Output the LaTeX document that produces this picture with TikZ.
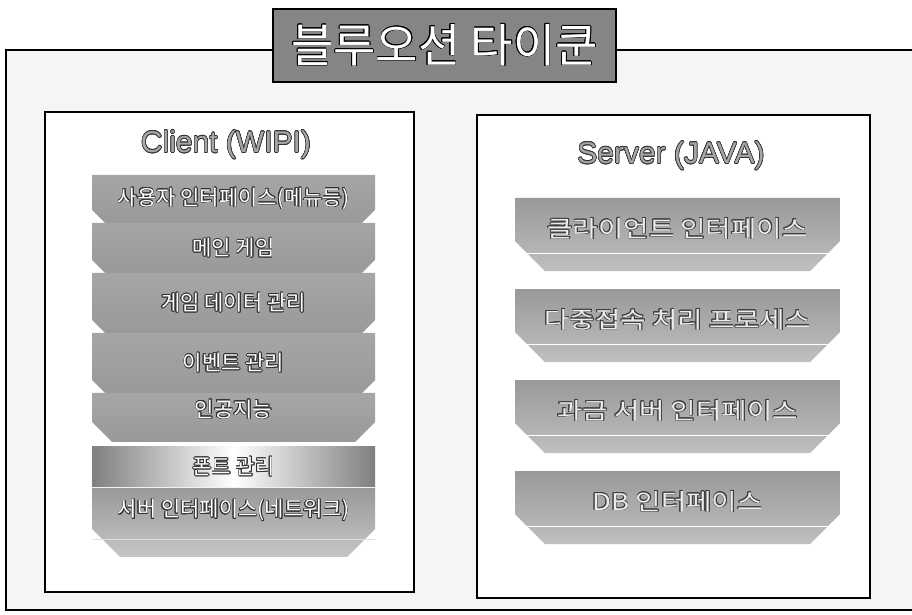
\documentclass[tikz,border=0pt]{standalone}
\usepackage{fontspec}
\usepackage{tikz}
\usepackage{contour}
\usetikzlibrary{positioning,shapes.misc}
\setmainfont{Noto Sans CJK KR}
\newfontfamily\hanwide[FakeStretch=1.2]{Noto Sans CJK KR}
\newfontfamily\latsans{Liberation Sans}
\contourlength{0.6pt}
\definecolor{titlegray}{gray}{0.52}
\definecolor{backgray}{gray}{0.96}

\begin{document}
\begin{tikzpicture}[x=1pt,y=1pt,
	clband/.style={chamfered rectangle, chamfered rectangle corners={south west,south east}, chamfered rectangle xsep=6pt, chamfered rectangle ysep=7pt, minimum width=283pt, inner sep=2pt, outer sep=0pt, top color=gray!70, middle color=gray!30, bottom color=gray!80, font=\fontsize{21}{24}\selectfont, text=white},
	svband/.style={chamfered rectangle, chamfered rectangle corners={south west,south east}, chamfered rectangle xsep=12pt, chamfered rectangle ysep=18pt, minimum width=325pt, minimum height=69pt, inner sep=2pt, outer sep=0pt, top color=gray!80, bottom color=gray!50, text depth=14pt, font=\hanwide\fontsize{23}{26}\selectfont, text=gray!15}]
		\useasboundingbox (0,0) rectangle (912,615);
		\path [draw, fill=backgray, line width=1.2pt] (6,5) rectangle (930,565);
		\node (title) at (444.5,569.5) [rectangle, draw, line width=1.2pt, fill=titlegray, minimum width=343pt, minimum height=73pt, font=\fontsize{46}{50}\selectfont, text=white] {\contour{black}{블루오션 타이쿤}};
		\node (client) at (229.5,263) [rectangle, draw, line width=1.5pt, fill=white, minimum width=369pt, minimum height=480pt] {};
		\node (server) at (673.5,258.5) [rectangle, draw, line width=1.5pt, fill=white, minimum width=393pt, minimum height=483pt] {};
		\node (ctitle) at (226,470) [font=\latsans\fontsize{30}{34}\selectfont, text=gray!70] {\contour{black!80}{Client (WIPI)}};
		\node (stitle) at (671,459) [font=\latsans\fontsize{30}{34}\selectfont, text=gray!70] {\contour{black!80}{Server (JAVA)}};
		% client layers
		\node (cl1) at (233.5,440) [clband, anchor=north, minimum height=48pt] {\contour{black!80}{사용자 인터페이스(메뉴등)}};
		\node (cl2) [clband, below=0pt of cl1, minimum height=50pt] {\contour{black!80}{메인 게임}};
		\node (cl3) [clband, below=0pt of cl2, minimum height=60pt] {\contour{black!80}{게임 데이터 관리}};
		\node (cl4) [clband, below=0pt of cl3, minimum height=60pt] {\contour{black!80}{이벤트 관리}};
		\node (cl5) [clband, below=0pt of cl4, minimum height=49pt, chamfered rectangle xsep=10pt, chamfered rectangle ysep=10pt] {\raisebox{8pt}[\height][\depth]{\contour{black!80}{인공지능}}};
		\node (cl6) [rectangle, below=5pt of cl5, minimum width=283pt, minimum height=40pt, inner sep=2pt, outer sep=0pt, left color=gray!100, right color=gray!100, middle color=white, font=\fontsize{21}{24}\selectfont, text=white] {\contour{black!80}{폰트 관리}};
		\node (cl7) [clband, below=1pt of cl6, minimum height=69pt, chamfered rectangle xsep=10pt, chamfered rectangle ysep=18pt, top color=gray!80, middle color=gray!70, bottom color=gray!45] {\raisebox{12pt}[\height][\depth]{\contour{black!80}{서버 인터페이스(네트워크)}}};
		\path [draw, gray!25, line width=0.8pt] (cl7.west |- cl7.south) ++(0,18) -- ++(283,0);
		% server layers
		\node (sv1) at (677.5,417) [svband, anchor=north] {\contour{black!75}{클라이언트 인터페이스}};
		\node (sv2) [svband, below=18pt of sv1] {\contour{black!75}{다중접속 처리 프로세스}};
		\node (sv3) [svband, below=18pt of sv2] {\contour{black!75}{과금 서버 인터페이스}};
		\node (sv4) [svband, below=18pt of sv3] {\contour{black!75}{DB 인터페이스}};
		\path [draw, white, line width=1pt] (sv1.west |- sv1.south) ++(0,18) -- ++(325,0);
		\path [draw, white, line width=1pt] (sv2.west |- sv2.south) ++(0,18) -- ++(325,0);
		\path [draw, white, line width=1pt] (sv3.west |- sv3.south) ++(0,18) -- ++(325,0);
		\path [draw, white, line width=1pt] (sv4.west |- sv4.south) ++(0,18) -- ++(325,0);
	\end{tikzpicture}
\end{document}
